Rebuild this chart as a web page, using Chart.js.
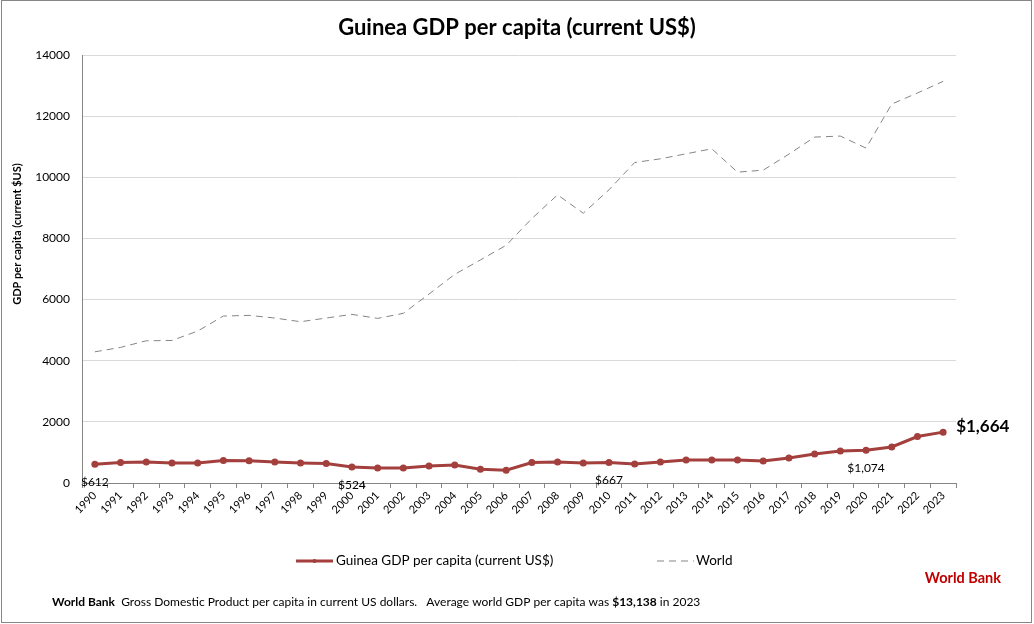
<!DOCTYPE html>
<html>
<head>
<meta charset="utf-8">
<script src="https://cdn.jsdelivr.net/npm/chart.js@4/dist/chart.umd.min.js"></script>
<style>
  html, body { margin: 0; padding: 0; background: #fff; }
  canvas { display: block; }
</style>
</head>
<body>
<canvas id="gdpChart" width="1034" height="624"></canvas>
<script>
// data
const years = ['1990','1991','1992','1993','1994','1995','1996','1997','1998','1999',
               '2000','2001','2002','2003','2004','2005','2006','2007','2008','2009',
               '2010','2011','2012','2013','2014','2015','2016','2017','2018','2019',
               '2020','2021','2022','2023'];
const guinea = [612, 668, 688, 655, 655, 734, 730, 688, 655, 636,
                524, 491, 491, 557, 590, 449, 416, 668, 688, 655,
                667, 622, 688, 754, 754, 754, 720, 819, 950, 1050,
                1074, 1179, 1520, 1664];
const world = [4291, 4435, 4652, 4662, 4970, 5461, 5483, 5396, 5275, 5396,
               5516, 5385, 5549, 6181, 6826, 7296, 7776, 8650, 9425, 8825,
               9589, 10484, 10604, 10768, 10932, 10168, 10233, 10757, 11315, 11348,
               10955, 12396, 12757, 13138];
const yTicks = [0, 2000, 4000, 6000, 8000, 10000, 12000, 14000];
const labelledYears = ['1990', '2000', '2010', '2020'];

const FONT = 'Lato, "Open Sans", sans-serif';
const RED = '#a33f3c';
const GREY_LINE = '#858585';

function money(v) {
    return '$' + v.toLocaleString('en-US');
}

// everything that Excel draws outside the plot: title, legend, notes, frame
const extras = {
    id: 'extras',
    afterDraw(chart) {
        const ctx = chart.ctx;
        const meta = chart.getDatasetMeta(0);
        ctx.save();

        // frame
        ctx.strokeStyle = '#868686';
        ctx.lineWidth = 1;
        ctx.strokeRect(1.5, 0.5, 1030, 622);

        // title
        ctx.fillStyle = '#000';
        ctx.font = 'bold 22px ' + FONT;
        ctx.textAlign = 'center';
        ctx.textBaseline = 'middle';
        ctx.fillText('Guinea GDP per capita (current US$)', 517, 28);

        // y axis title
        ctx.save();
        ctx.translate(17, 234);
        ctx.rotate(-Math.PI / 2);
        ctx.font = 'bold 11px ' + FONT;
        ctx.fillText('GDP per capita (current $US)', 0, 0);
        ctx.restore();

        // value labels under some points
        ctx.font = '12px ' + FONT;
        labelledYears.forEach(function (yr) {
            const i = years.indexOf(yr);
            const pt = meta.data[i];
            ctx.fillText(money(guinea[i]), pt.x, pt.y + 18);
        });

        // last value, big
        const last = meta.data[meta.data.length - 1];
        ctx.font = 'bold 17px ' + FONT;
        ctx.textAlign = 'left';
        ctx.fillText(money(guinea[guinea.length - 1]), last.x + 13, last.y - 6);

        // legend
        ctx.strokeStyle = RED;
        ctx.lineWidth = 3;
        ctx.beginPath();
        ctx.moveTo(296, 561);
        ctx.lineTo(333, 561);
        ctx.stroke();
        ctx.fillStyle = RED;
        ctx.beginPath();
        ctx.arc(314.5, 561, 2, 0, Math.PI * 2);
        ctx.fill();
        ctx.fillStyle = '#000';
        ctx.font = '13.5px ' + FONT;
        ctx.fillText('Guinea GDP per capita (current US$)', 336, 561);

        ctx.strokeStyle = GREY_LINE;
        ctx.lineWidth = 1;
        ctx.setLineDash([7, 5]);
        ctx.beginPath();
        ctx.moveTo(657, 561);
        ctx.lineTo(694, 561);
        ctx.stroke();
        ctx.setLineDash([]);
        ctx.fillText('World', 696, 561);

        // source, red
        ctx.fillStyle = '#c00000';
        ctx.font = 'bold 14.5px ' + FONT;
        ctx.textAlign = 'right';
        ctx.fillText('World Bank', 1001, 578);

        // footnote with mixed weights
        ctx.textAlign = 'left';
        ctx.fillStyle = '#000';
        const parts = [
            ['bold', 'World Bank'],
            ['normal', '  Gross Domestic Product per capita in current US dollars.   Average world GDP per capita was '],
            ['bold', money(world[world.length - 1])],
            ['normal', ' in 2023']
        ];
        let x = 52;
        parts.forEach(function (p) {
            ctx.font = p[0] + ' 12px ' + FONT;
            ctx.fillText(p[1], x, 602);
            x += ctx.measureText(p[1]).width;
        });

        ctx.restore();
    }
};

const ctx = document.getElementById('gdpChart').getContext('2d');
const chart = new Chart(ctx, {
    type: 'line',
    data: {
        labels: years,
        datasets: [{
            label: 'Guinea GDP per capita (current US$)',
            data: guinea,
            borderColor: RED,
            backgroundColor: RED,
            borderWidth: 3,
            pointRadius: 2,
            pointHoverRadius: 2,
            tension: 0,
            order: 0
        }, {
            label: 'World',
            data: world,
            borderColor: GREY_LINE,
            borderWidth: 1,
            borderDash: [7, 5],
            pointRadius: 0,
            tension: 0,
            order: 1
        }]
    },
    options: {
        responsive: false,
        animation: false,
        devicePixelRatio: 1,
        layout: { padding: { top: 55, right: 78, bottom: 0, left: 0 } },
        plugins: {
            legend: { display: false },
            tooltip: { enabled: false }
        },
        scales: {
            x: {
                offset: true,
                afterFit: function (s) { s.height = 141; },
                grid: {
                    offset: true,
                    drawOnChartArea: false,
                    drawTicks: true,
                    tickLength: 5,
                    color: '#868686'
                },
                border: { color: '#868686' },
                ticks: {
                    autoSkip: false,
                    maxRotation: 45,
                    minRotation: 45,
                    padding: 1,
                    color: '#000',
                    font: { family: FONT, size: 11 }
                }
            },
            y: {
                min: 0,
                max: 14000,
                afterFit: function (s) { s.width = 82; },
                afterBuildTicks: function (s) {
                    s.ticks = yTicks.map(function (v) { return { value: v }; });
                },
                grid: { color: '#d9d9d9', drawTicks: false },
                border: { color: '#868686' },
                ticks: {
                    padding: 12,
                    color: '#000',
                    font: { family: FONT, size: 12 },
                    callback: function (v) { return String(v); }
                }
            }
        }
    },
    plugins: [extras]
});
</script>
</body>
</html>
